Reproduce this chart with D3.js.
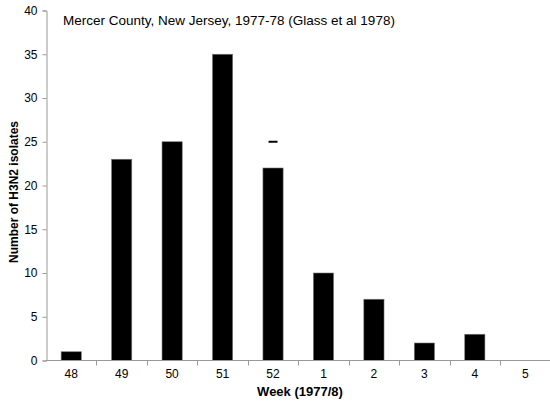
<!DOCTYPE html>
<html>
<head>
<meta charset="utf-8">
<script src="https://cdn.jsdelivr.net/npm/d3@7"></script>
<style>
  body { margin: 0; background: #fff; }
  text { font-family: "Liberation Sans", Arial, sans-serif; fill: #000; }
</style>
</head>
<body>
<svg id="chart" width="550" height="406"></svg>
<script>
// data
var weeks = ["48", "49", "50", "51", "52", "1", "2", "3", "4", "5"];
var isolates = [1, 23, 25, 35, 22, 10, 7, 2, 3, 0];
var markerWeek = ["52"];
var markerValue = [25];
var yTicks = [0, 5, 10, 15, 20, 25, 30, 35, 40];

var svg = d3.select("#chart");
var plotL = 46, plotR = 550.5, plotT = 10.5, plotB = 360.5;

var x = d3.scaleBand().domain(weeks).range([plotL, plotR]).padding(0);
var y = d3.scaleLinear().domain([0, 40]).range([plotB, plotT]);
var barW = x.bandwidth() * 0.4;

// y axis
var yAxis = svg.append("g").attr("transform", "translate(" + (plotL + 0.5) + ",0)")
    .call(d3.axisLeft(y).tickValues(yTicks).tickSize(4).tickPadding(5));
yAxis.select(".domain").attr("stroke", "#999");
yAxis.selectAll(".tick line").attr("stroke", "#999");
yAxis.selectAll("text").style("font-size", "12px").attr("fill", "#000");

// bars
svg.selectAll("rect.bar")
    .data(isolates)
    .enter().append("rect")
        .attr("class", "bar")
        .attr("x", (d, i) => x(weeks[i]) + (x.bandwidth() - barW) / 2)
        .attr("y", d => y(d))
        .attr("width", barW)
        .attr("height", d => y(0) - y(d))
        .attr("fill", "#000")
        .attr("stroke", "#777")
        .attr("stroke-width", 0.6);

// little dash marker
svg.selectAll("line.marker")
    .data(markerValue)
    .enter().append("line")
        .attr("class", "marker")
        .attr("x1", (d, i) => x(markerWeek[i]) + x.bandwidth() / 2 - 4.5)
        .attr("x2", (d, i) => x(markerWeek[i]) + x.bandwidth() / 2 + 4.5)
        .attr("y1", d => y(d))
        .attr("y2", d => y(d))
        .attr("stroke", "#000")
        .attr("stroke-width", 2);

// x axis with ticks between categories
var xg = svg.append("g");
xg.append("line")
    .attr("x1", plotL).attr("x2", plotR)
    .attr("y1", plotB).attr("y2", plotB)
    .attr("stroke", "#999");
xg.selectAll("line.tk")
    .data(weeks.slice(1))
    .enter().append("line")
        .attr("class", "tk")
        .attr("x1", d => Math.round(x(d)) + 0.5)
        .attr("x2", d => Math.round(x(d)) + 0.5)
        .attr("y1", plotB).attr("y2", plotB + 5)
        .attr("stroke", "#999");
xg.selectAll("text")
    .data(weeks)
    .enter().append("text")
        .attr("x", d => x(d) + x.bandwidth() / 2)
        .attr("y", plotB + 17.5)
        .attr("text-anchor", "middle")
        .style("font-size", "12px")
        .text(d => d);

// axis titles
svg.append("text")
    .attr("x", 300).attr("y", 395.5)
    .attr("text-anchor", "middle")
    .style("font-size", "13px").style("font-weight", "bold")
    .text("Week (1977/8)");

svg.append("text")
    .attr("transform", "translate(17.5,192) rotate(-90)")
    .attr("text-anchor", "middle")
    .style("font-size", "12px").style("font-weight", "bold")
    .text("Number of H3N2 isolates");

// chart title
svg.append("text")
    .attr("x", 63).attr("y", 25)
    .style("font-size", "13.5px")
    .text("Mercer County, New Jersey, 1977-78 (Glass et al 1978)");
</script>
</body>
</html>
